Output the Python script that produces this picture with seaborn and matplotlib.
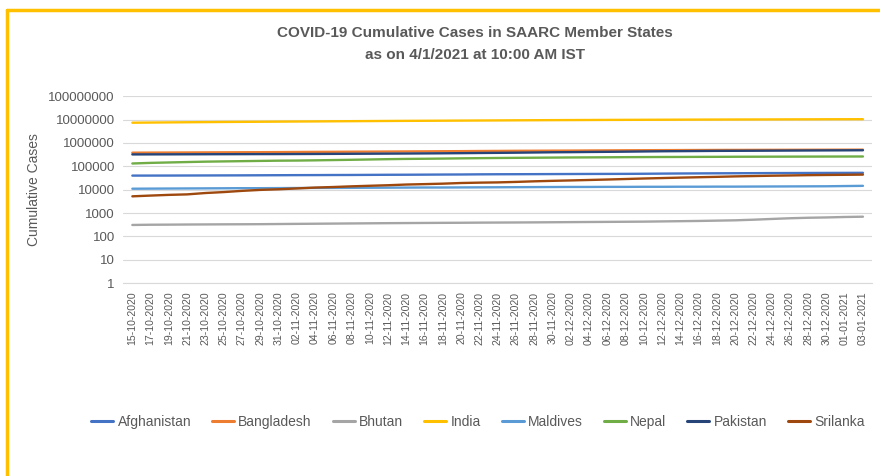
import numpy as np
import pandas as pd
import seaborn as sns
import matplotlib.pyplot as plt
from matplotlib.lines import Line2D
from matplotlib.ticker import FixedLocator, NullLocator

# dates shown on the x axis (every second day)
dates = ["15-10-2020", "17-10-2020", "19-10-2020", "21-10-2020", "23-10-2020", "25-10-2020",
         "27-10-2020", "29-10-2020", "31-10-2020", "02-11-2020", "04-11-2020", "06-11-2020",
         "08-11-2020", "10-11-2020", "12-11-2020", "14-11-2020", "16-11-2020", "18-11-2020",
         "20-11-2020", "22-11-2020", "24-11-2020", "26-11-2020", "28-11-2020", "30-11-2020",
         "02-12-2020", "04-12-2020", "06-12-2020", "08-12-2020", "10-12-2020", "12-12-2020",
         "14-12-2020", "16-12-2020", "18-12-2020", "20-12-2020", "22-12-2020", "24-12-2020",
         "26-12-2020", "28-12-2020", "30-12-2020", "01-01-2021", "03-01-2021"]

afghanistan = [40000, 40100, 40200, 40400, 40600, 40800, 41000, 41300, 41600, 41900, 42100,
               42400, 42600, 43000, 43400, 43600, 44000, 44400, 44700, 45300, 45700, 45900,
               46200, 46500, 46800, 47100, 47300, 47500, 48000, 48700, 49300, 49700, 50200,
               50500, 50900, 51300, 51500, 51800, 52100, 52300, 52600]
bangladesh = [382000, 385000, 387300, 390200, 393000, 396000, 398800, 401600, 405000, 410000,
              414000, 417000, 421000, 424000, 428000, 432000, 436000, 441000, 445000, 451000,
              455000, 460000, 463000, 467000, 470000, 475000, 479000, 484000, 488000, 491000,
              494000, 497000, 500000, 502000, 504000, 506000, 508000, 510000, 512000, 514000,
              516000]
bhutan = [310, 317, 320, 324, 327, 330, 332, 335, 340, 345, 350, 355, 360, 365, 370, 374, 378,
          382, 385, 390, 393, 396, 400, 405, 410, 415, 420, 425, 430, 440, 450, 460, 475, 490,
          520, 560, 600, 630, 650, 680, 700]
india = [7310000, 7430000, 7550000, 7650000, 7760000, 7860000, 7950000, 8040000, 8140000,
         8230000, 8310000, 8410000, 8510000, 8590000, 8680000, 8770000, 8850000, 8920000,
         9000000, 9090000, 9180000, 9270000, 9350000, 9430000, 9500000, 9570000, 9640000,
         9700000, 9760000, 9820000, 9880000, 9930000, 9980000, 10030000, 10070000, 10120000,
         10170000, 10210000, 10270000, 10300000, 10340000]
maldives = [11000, 11100, 11200, 11300, 11400, 11500, 11600, 11600, 11700, 11800, 11900, 11900,
            12000, 12100, 12200, 12300, 12400, 12400, 12500, 12600, 12700, 12800, 12900, 13000,
            13100, 13100, 13200, 13200, 13300, 13300, 13400, 13400, 13500, 13500, 13600, 13700,
            13800, 13900, 14000, 14300, 14600]
nepal = [132000, 140000, 146000, 152000, 158000, 162000, 166000, 170000, 174000, 176000, 180000,
         185000, 190000, 196000, 202000, 207000, 210000, 214000, 219000, 223000, 227000, 230000,
         233000, 236000, 239000, 241000, 243000, 246000, 248000, 250000, 251000, 253000, 254000,
         256000, 257000, 258000, 259000, 260000, 261000, 262000, 263000]
pakistan = [322500, 323800, 325000, 326500, 328000, 329400, 331000, 332200, 333000, 335000,
            337000, 340000, 343000, 346000, 349000, 352000, 356000, 360000, 365000, 371000,
            376000, 382000, 390000, 398000, 403000, 410000, 416000, 423000, 432000, 440000,
            445000, 451000, 457000, 460000, 463000, 467000, 471000, 475000, 479000, 482000,
            486000]
srilanka = [5200, 5600, 6000, 6300, 7200, 7900, 8900, 9800, 10400, 11300, 12300, 13000, 13900,
            14700, 15500, 16600, 17300, 18100, 19300, 20000, 20500, 21500, 22800, 23900, 24900,
            26000, 27200, 28600, 30100, 31400, 32800, 34100, 35400, 37000, 38300, 39600, 40600,
            41800, 42600, 43300, 44100]

countries = ["Afghanistan", "Bangladesh", "Bhutan", "India", "Maldives", "Nepal", "Pakistan", "Srilanka"]
series = [afghanistan, bangladesh, bhutan, india, maldives, nepal, pakistan, srilanka]
colors = ["#4472C4", "#ED7D31", "#A5A5A5", "#FFC000", "#5B9BD5", "#70AD47", "#264478", "#9E480E"]

rows = []
for name, vals in zip(countries, series):
    for i, v in enumerate(vals):
        rows.append((i, name, v))
df = pd.DataFrame(rows, columns=["pos", "country", "cases"])

sns.set_style("white")
plt.rcParams['font.family'] = ['Liberation Sans', 'DejaVu Sans']
txt = "#595959"

fig = plt.figure(figsize=(8.8, 4.76), dpi=100)
ax = fig.add_axes([0.140, 0.405, 0.851, 0.393])

sns.lineplot(data=df, x="pos", y="cases", hue="country", hue_order=countries,
             palette=dict(zip(countries, colors)), linewidth=1.7, ax=ax, legend=False)

ax.set_yscale("log")
ax.set_ylim(1, 1e8)
ax.set_xlim(-0.5, len(dates) - 0.5)
ax.yaxis.set_major_locator(FixedLocator([10 ** k for k in range(9)]))
ax.yaxis.set_minor_locator(NullLocator())
ax.set_yticklabels([str(10 ** k) for k in range(9)], fontsize=9.5, color=txt)
ax.set_xticks(range(len(dates)))
ax.set_xticklabels(dates, rotation=90, fontsize=7.6, color=txt)
ax.tick_params(axis="both", length=0, pad=6)
ax.grid(axis="y", color="#D9D9D9", linewidth=0.8)
for s in ["top", "right", "left"]:
    ax.spines[s].set_visible(False)
ax.spines["bottom"].set_color("#D9D9D9")
ax.set_xlabel("")
ax.set_ylabel("Cumulative Cases", fontsize=10, color=txt, labelpad=5)

fig.text(0.54, 0.930, "COVID-19 Cumulative Cases in SAARC Member States",
         ha="center", va="center", fontsize=11, color=txt, fontweight="bold")
fig.text(0.54, 0.884, "as on 4/1/2021 at 10:00 AM IST",
         ha="center", va="center", fontsize=11, color=txt, fontweight="bold")

handles = [Line2D([0], [0], color=c, linewidth=2.2) for c in colors]
fig.legend(handles, countries, loc="center", bbox_to_anchor=(0.543, 0.113), ncol=8,
           frameon=False, fontsize=10, labelcolor=txt, handlelength=1.6,
           handletextpad=0.3, columnspacing=1.5)

# yellow frame along top and left edge
fig.add_artist(Line2D([0.008, 1.0], [0.978, 0.978], color="#FFC000", linewidth=2.5,
                      transform=fig.transFigure))
fig.add_artist(Line2D([0.008, 0.008], [0.0, 0.978], color="#FFC000", linewidth=2.5,
                      transform=fig.transFigure))

fig.savefig("out.png", dpi=100)
